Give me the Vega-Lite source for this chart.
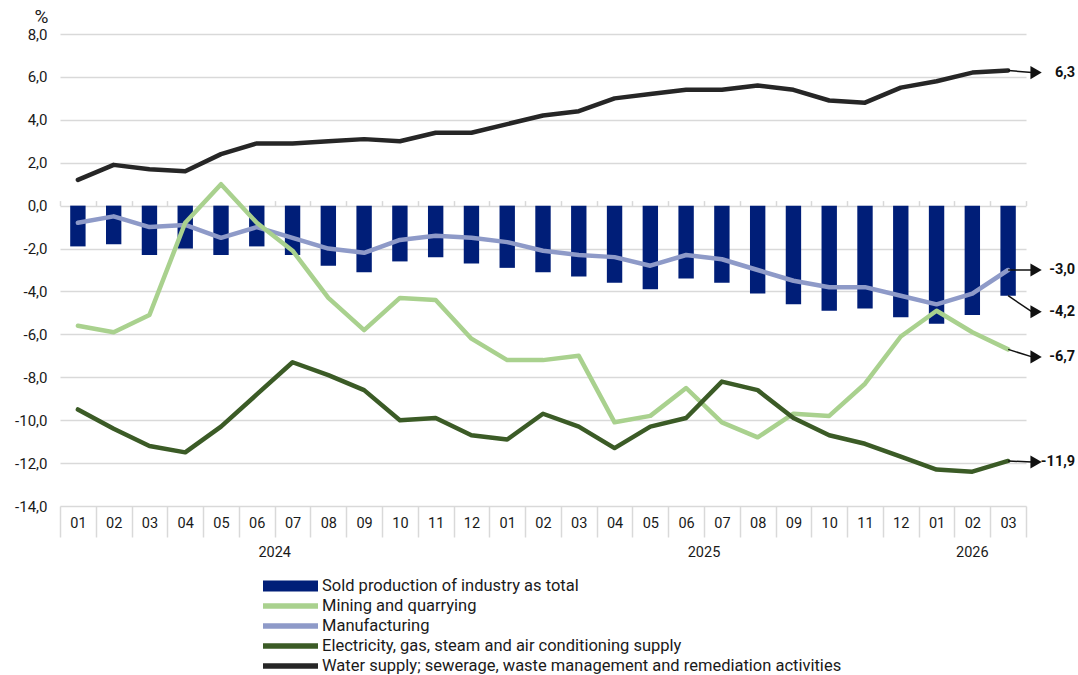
{
  "$schema": "https://vega.github.io/schema/vega-lite/v6.json",
  "width": 966,
  "height": 472,
  "autosize": {"type": "none"},
  "padding": {"left": 60, "top": 34, "right": 52, "bottom": 169},
  "background": "white",
  "config": {
    "locale": {"number": {"decimal": ",", "thousands": " ", "grouping": [3], "currency": ["", ""], "minus": "-"}},
    "font": "Roboto",
    "view": {"stroke": null},
    "axis": {"labelFont": "Roboto", "labelColor": "#1a1a1a", "labelFontSize": 14},
    "axisY": {"titleFontSize": 19, "titleFontWeight": "normal", "titleColor": "#1a1a1a", "labelFontSize": 15}
  },
  "datasets": {
    "bars": [
      {"period": "2024-01", "series": "Sold production of industry as total", "value": -1.9},
      {"period": "2024-02", "series": "Sold production of industry as total", "value": -1.8},
      {"period": "2024-03", "series": "Sold production of industry as total", "value": -2.3},
      {"period": "2024-04", "series": "Sold production of industry as total", "value": -2.0},
      {"period": "2024-05", "series": "Sold production of industry as total", "value": -2.3},
      {"period": "2024-06", "series": "Sold production of industry as total", "value": -1.9},
      {"period": "2024-07", "series": "Sold production of industry as total", "value": -2.3},
      {"period": "2024-08", "series": "Sold production of industry as total", "value": -2.8},
      {"period": "2024-09", "series": "Sold production of industry as total", "value": -3.1},
      {"period": "2024-10", "series": "Sold production of industry as total", "value": -2.6},
      {"period": "2024-11", "series": "Sold production of industry as total", "value": -2.4},
      {"period": "2024-12", "series": "Sold production of industry as total", "value": -2.7},
      {"period": "2025-01", "series": "Sold production of industry as total", "value": -2.9},
      {"period": "2025-02", "series": "Sold production of industry as total", "value": -3.1},
      {"period": "2025-03", "series": "Sold production of industry as total", "value": -3.3},
      {"period": "2025-04", "series": "Sold production of industry as total", "value": -3.6},
      {"period": "2025-05", "series": "Sold production of industry as total", "value": -3.9},
      {"period": "2025-06", "series": "Sold production of industry as total", "value": -3.4},
      {"period": "2025-07", "series": "Sold production of industry as total", "value": -3.6},
      {"period": "2025-08", "series": "Sold production of industry as total", "value": -4.1},
      {"period": "2025-09", "series": "Sold production of industry as total", "value": -4.6},
      {"period": "2025-10", "series": "Sold production of industry as total", "value": -4.9},
      {"period": "2025-11", "series": "Sold production of industry as total", "value": -4.8},
      {"period": "2025-12", "series": "Sold production of industry as total", "value": -5.2},
      {"period": "2026-01", "series": "Sold production of industry as total", "value": -5.5},
      {"period": "2026-02", "series": "Sold production of industry as total", "value": -5.1},
      {"period": "2026-03", "series": "Sold production of industry as total", "value": -4.2}
    ],
    "lines": [
      {"period": "2024-01", "series": "Manufacturing", "value": -0.8},
      {"period": "2024-02", "series": "Manufacturing", "value": -0.5},
      {"period": "2024-03", "series": "Manufacturing", "value": -1.0},
      {"period": "2024-04", "series": "Manufacturing", "value": -0.9},
      {"period": "2024-05", "series": "Manufacturing", "value": -1.5},
      {"period": "2024-06", "series": "Manufacturing", "value": -1.0},
      {"period": "2024-07", "series": "Manufacturing", "value": -1.5},
      {"period": "2024-08", "series": "Manufacturing", "value": -2.0},
      {"period": "2024-09", "series": "Manufacturing", "value": -2.2},
      {"period": "2024-10", "series": "Manufacturing", "value": -1.6},
      {"period": "2024-11", "series": "Manufacturing", "value": -1.4},
      {"period": "2024-12", "series": "Manufacturing", "value": -1.5},
      {"period": "2025-01", "series": "Manufacturing", "value": -1.7},
      {"period": "2025-02", "series": "Manufacturing", "value": -2.1},
      {"period": "2025-03", "series": "Manufacturing", "value": -2.3},
      {"period": "2025-04", "series": "Manufacturing", "value": -2.4},
      {"period": "2025-05", "series": "Manufacturing", "value": -2.8},
      {"period": "2025-06", "series": "Manufacturing", "value": -2.3},
      {"period": "2025-07", "series": "Manufacturing", "value": -2.5},
      {"period": "2025-08", "series": "Manufacturing", "value": -3.0},
      {"period": "2025-09", "series": "Manufacturing", "value": -3.5},
      {"period": "2025-10", "series": "Manufacturing", "value": -3.8},
      {"period": "2025-11", "series": "Manufacturing", "value": -3.8},
      {"period": "2025-12", "series": "Manufacturing", "value": -4.2},
      {"period": "2026-01", "series": "Manufacturing", "value": -4.6},
      {"period": "2026-02", "series": "Manufacturing", "value": -4.1},
      {"period": "2026-03", "series": "Manufacturing", "value": -3.0},
      {"period": "2024-01", "series": "Mining and quarrying", "value": -5.6},
      {"period": "2024-02", "series": "Mining and quarrying", "value": -5.9},
      {"period": "2024-03", "series": "Mining and quarrying", "value": -5.1},
      {"period": "2024-04", "series": "Mining and quarrying", "value": -0.8},
      {"period": "2024-05", "series": "Mining and quarrying", "value": 1.0},
      {"period": "2024-06", "series": "Mining and quarrying", "value": -0.8},
      {"period": "2024-07", "series": "Mining and quarrying", "value": -2.1},
      {"period": "2024-08", "series": "Mining and quarrying", "value": -4.3},
      {"period": "2024-09", "series": "Mining and quarrying", "value": -5.8},
      {"period": "2024-10", "series": "Mining and quarrying", "value": -4.3},
      {"period": "2024-11", "series": "Mining and quarrying", "value": -4.4},
      {"period": "2024-12", "series": "Mining and quarrying", "value": -6.2},
      {"period": "2025-01", "series": "Mining and quarrying", "value": -7.2},
      {"period": "2025-02", "series": "Mining and quarrying", "value": -7.2},
      {"period": "2025-03", "series": "Mining and quarrying", "value": -7.0},
      {"period": "2025-04", "series": "Mining and quarrying", "value": -10.1},
      {"period": "2025-05", "series": "Mining and quarrying", "value": -9.8},
      {"period": "2025-06", "series": "Mining and quarrying", "value": -8.5},
      {"period": "2025-07", "series": "Mining and quarrying", "value": -10.1},
      {"period": "2025-08", "series": "Mining and quarrying", "value": -10.8},
      {"period": "2025-09", "series": "Mining and quarrying", "value": -9.7},
      {"period": "2025-10", "series": "Mining and quarrying", "value": -9.8},
      {"period": "2025-11", "series": "Mining and quarrying", "value": -8.3},
      {"period": "2025-12", "series": "Mining and quarrying", "value": -6.1},
      {"period": "2026-01", "series": "Mining and quarrying", "value": -4.9},
      {"period": "2026-02", "series": "Mining and quarrying", "value": -5.9},
      {"period": "2026-03", "series": "Mining and quarrying", "value": -6.7},
      {"period": "2024-01", "series": "\u00a0Electricity, gas, steam and air conditioning supply", "value": -9.5},
      {"period": "2024-02", "series": "\u00a0Electricity, gas, steam and air conditioning supply", "value": -10.4},
      {"period": "2024-03", "series": "\u00a0Electricity, gas, steam and air conditioning supply", "value": -11.2},
      {"period": "2024-04", "series": "\u00a0Electricity, gas, steam and air conditioning supply", "value": -11.5},
      {"period": "2024-05", "series": "\u00a0Electricity, gas, steam and air conditioning supply", "value": -10.3},
      {"period": "2024-06", "series": "\u00a0Electricity, gas, steam and air conditioning supply", "value": -8.8},
      {"period": "2024-07", "series": "\u00a0Electricity, gas, steam and air conditioning supply", "value": -7.3},
      {"period": "2024-08", "series": "\u00a0Electricity, gas, steam and air conditioning supply", "value": -7.9},
      {"period": "2024-09", "series": "\u00a0Electricity, gas, steam and air conditioning supply", "value": -8.6},
      {"period": "2024-10", "series": "\u00a0Electricity, gas, steam and air conditioning supply", "value": -10.0},
      {"period": "2024-11", "series": "\u00a0Electricity, gas, steam and air conditioning supply", "value": -9.9},
      {"period": "2024-12", "series": "\u00a0Electricity, gas, steam and air conditioning supply", "value": -10.7},
      {"period": "2025-01", "series": "\u00a0Electricity, gas, steam and air conditioning supply", "value": -10.9},
      {"period": "2025-02", "series": "\u00a0Electricity, gas, steam and air conditioning supply", "value": -9.7},
      {"period": "2025-03", "series": "\u00a0Electricity, gas, steam and air conditioning supply", "value": -10.3},
      {"period": "2025-04", "series": "\u00a0Electricity, gas, steam and air conditioning supply", "value": -11.3},
      {"period": "2025-05", "series": "\u00a0Electricity, gas, steam and air conditioning supply", "value": -10.3},
      {"period": "2025-06", "series": "\u00a0Electricity, gas, steam and air conditioning supply", "value": -9.9},
      {"period": "2025-07", "series": "\u00a0Electricity, gas, steam and air conditioning supply", "value": -8.2},
      {"period": "2025-08", "series": "\u00a0Electricity, gas, steam and air conditioning supply", "value": -8.6},
      {"period": "2025-09", "series": "\u00a0Electricity, gas, steam and air conditioning supply", "value": -9.9},
      {"period": "2025-10", "series": "\u00a0Electricity, gas, steam and air conditioning supply", "value": -10.7},
      {"period": "2025-11", "series": "\u00a0Electricity, gas, steam and air conditioning supply", "value": -11.1},
      {"period": "2025-12", "series": "\u00a0Electricity, gas, steam and air conditioning supply", "value": -11.7},
      {"period": "2026-01", "series": "\u00a0Electricity, gas, steam and air conditioning supply", "value": -12.3},
      {"period": "2026-02", "series": "\u00a0Electricity, gas, steam and air conditioning supply", "value": -12.4},
      {"period": "2026-03", "series": "\u00a0Electricity, gas, steam and air conditioning supply", "value": -11.9},
      {"period": "2024-01", "series": "Water supply; sewerage, waste management and remediation activities", "value": 1.2},
      {"period": "2024-02", "series": "Water supply; sewerage, waste management and remediation activities", "value": 1.9},
      {"period": "2024-03", "series": "Water supply; sewerage, waste management and remediation activities", "value": 1.7},
      {"period": "2024-04", "series": "Water supply; sewerage, waste management and remediation activities", "value": 1.6},
      {"period": "2024-05", "series": "Water supply; sewerage, waste management and remediation activities", "value": 2.4},
      {"period": "2024-06", "series": "Water supply; sewerage, waste management and remediation activities", "value": 2.9},
      {"period": "2024-07", "series": "Water supply; sewerage, waste management and remediation activities", "value": 2.9},
      {"period": "2024-08", "series": "Water supply; sewerage, waste management and remediation activities", "value": 3.0},
      {"period": "2024-09", "series": "Water supply; sewerage, waste management and remediation activities", "value": 3.1},
      {"period": "2024-10", "series": "Water supply; sewerage, waste management and remediation activities", "value": 3.0},
      {"period": "2024-11", "series": "Water supply; sewerage, waste management and remediation activities", "value": 3.4},
      {"period": "2024-12", "series": "Water supply; sewerage, waste management and remediation activities", "value": 3.4},
      {"period": "2025-01", "series": "Water supply; sewerage, waste management and remediation activities", "value": 3.8},
      {"period": "2025-02", "series": "Water supply; sewerage, waste management and remediation activities", "value": 4.2},
      {"period": "2025-03", "series": "Water supply; sewerage, waste management and remediation activities", "value": 4.4},
      {"period": "2025-04", "series": "Water supply; sewerage, waste management and remediation activities", "value": 5.0},
      {"period": "2025-05", "series": "Water supply; sewerage, waste management and remediation activities", "value": 5.2},
      {"period": "2025-06", "series": "Water supply; sewerage, waste management and remediation activities", "value": 5.4},
      {"period": "2025-07", "series": "Water supply; sewerage, waste management and remediation activities", "value": 5.4},
      {"period": "2025-08", "series": "Water supply; sewerage, waste management and remediation activities", "value": 5.6},
      {"period": "2025-09", "series": "Water supply; sewerage, waste management and remediation activities", "value": 5.4},
      {"period": "2025-10", "series": "Water supply; sewerage, waste management and remediation activities", "value": 4.9},
      {"period": "2025-11", "series": "Water supply; sewerage, waste management and remediation activities", "value": 4.8},
      {"period": "2025-12", "series": "Water supply; sewerage, waste management and remediation activities", "value": 5.5},
      {"period": "2026-01", "series": "Water supply; sewerage, waste management and remediation activities", "value": 5.8},
      {"period": "2026-02", "series": "Water supply; sewerage, waste management and remediation activities", "value": 6.2},
      {"period": "2026-03", "series": "Water supply; sewerage, waste management and remediation activities", "value": 6.3}
    ],
    "ends": [
      {"period": "2026-03", "series": "Water supply; sewerage, waste management and remediation activities", "value": 6.3, "labelPos": 6.2},
      {"period": "2026-03", "series": "Manufacturing", "value": -3.0, "labelPos": -3.0},
      {"period": "2026-03", "series": "Sold production of industry as total", "value": -4.2, "labelPos": -4.95},
      {"period": "2026-03", "series": "Mining and quarrying", "value": -6.7, "labelPos": -7.05},
      {"period": "2026-03", "series": "\u00a0Electricity, gas, steam and air conditioning supply", "value": -11.9, "labelPos": -11.95}
    ]
  },
  "resolve": {"axis": {"x": "independent"}},
  "layer": [
    {
      "data": {"name": "bars"},
      "mark": {"type": "bar", "width": {"band": 0.43}},
      "encoding": {
        "x": {
          "field": "period", "type": "ordinal", "sort": null,
          "scale": {"paddingInner": 0, "paddingOuter": 0},
          "axis": {
            "orient": "bottom", "title": null,
            "labelExpr": "datum.value ? slice(datum.value, 5) : ''",
            "tickBand": "extent", "tickSize": 31, "tickColor": "#D9D9D9", "tickWidth": 1.5,
            "domain": false, "grid": false, "labelAngle": 0, "labelBaseline": "middle",
            "labelPadding": -14, "labelFontSize": 14.5,
            "encode": {"ticks": {"update": {"y2": {"signal": "(datum.extra || datum.value == '2024-12' || datum.value == '2025-12' || datum.value == '2026-03') ? 61 : 31"}}}}
          }
        },
        "y": {
          "field": "value", "type": "quantitative",
          "scale": {"domain": [-14, 8], "nice": false},
          "axis": {
            "values": [-14, -12, -10, -8, -6, -4, -2, 0, 2, 4, 6, 8],
            "format": ".1f", "title": "%", "titleAngle": 0, "titleX": -19, "titleY": -18,
            "titleAlign": "center", "titleBaseline": "middle", "titleFontSize": 19,
            "titleFontWeight": "normal", "titleColor": "#1a1a1a", "titleFont": "Roboto",
            "ticks": false, "domain": false, "grid": true, "gridColor": "#D9D9D9", "gridWidth": 1.5,
            "labelPadding": 13, "labelFontSize": 15
          }
        },
        "color": {
          "field": "series", "type": "nominal",
          "scale": {
            "domain": ["Sold production of industry as total", "Mining and quarrying", "Manufacturing", "\u00a0Electricity, gas, steam and air conditioning supply", "Water supply; sewerage, waste management and remediation activities"],
            "range": ["#001E78", "#A9D18E", "#8E9AC8", "#3B5B26", "#262626"]
          },
          "legend": {
            "orient": "none", "legendX": 220.5, "legendY": 542, "direction": "vertical", "title": null,
            "padding": 0, "symbolType": "M-2.75,-0.28H2.75V0.28H-2.75Z", "symbolSize": 400, "symbolStrokeWidth": 0,
            "symbolOpacity": 1, "labelFont": "Roboto", "labelFontSize": 16.5, "labelColor": "#1a1a1a",
            "labelLimit": 800, "labelOffset": 21.5, "rowPadding": 1,
            "encode": {"symbols": {"update": {"shape": {"signal": "datum.value == 'Sold production of industry as total' ? 'M-2.75,-0.55H2.75V0.55H-2.75Z' : 'M-2.75,-0.28H2.75V0.28H-2.75Z'"}}}}
          }
        }
      }
    },
    {
      "data": {"name": "lines"},
      "mark": {"type": "line", "strokeWidth": 4.5, "strokeJoin": "round", "strokeCap": "round"},
      "encoding": {
        "x": {
          "field": "period", "type": "ordinal", "sort": null,
          "axis": {
            "orient": "bottom", "title": null, "values": ["2024-06", "2025-06"],
            "labelExpr": "datum.value ? slice(datum.value, 0, 4) : ''",
            "ticks": false, "domain": false, "grid": false, "labelAngle": 0,
            "labelBaseline": "middle", "labelPadding": 46, "labelFontSize": 14.5, "labelOffset": 17.9
          }
        },
        "y": {"field": "value", "type": "quantitative"},
        "color": {"field": "series", "type": "nominal", "legend": null}
      }
    },
    {
      "data": {"name": "ends"},
      "mark": {"type": "rule", "color": "#111111", "strokeWidth": 1.5, "x2Offset": 24},
      "encoding": {
        "x": {
          "field": "period", "type": "ordinal", "sort": null,
          "axis": {
            "orient": "top", "offset": -171.6, "title": null,
            "labels": false, "domain": false, "grid": false, "tickBand": "extent",
            "tickSize": 5, "tickColor": "#D9D9D9", "tickWidth": 1.5
          }
        },
        "x2": {"field": "period"},
        "y": {"field": "value", "type": "quantitative"},
        "y2": {"field": "labelPos"}
      }
    },
    {
      "data": {"name": "ends"},
      "mark": {"type": "point", "shape": "triangle-right", "filled": true, "size": 170, "color": "#111111", "opacity": 1, "xOffset": 28},
      "encoding": {
        "x": {
          "field": "period", "type": "ordinal", "sort": null,
          "axis": {
            "orient": "bottom", "title": null, "values": ["2026-02"],
            "labelExpr": "'2026'", "ticks": false, "domain": false, "grid": false, "labelAngle": 0,
            "labelBaseline": "middle", "labelPadding": 46, "labelFontSize": 14.5
          }
        },
        "y": {"field": "labelPos", "type": "quantitative"}
      }
    },
    {
      "data": {"name": "ends"},
      "mark": {"type": "text", "align": "right", "baseline": "middle", "fontWeight": "bold", "fontSize": 14.5, "font": "Roboto", "color": "#111111", "xOffset": 67},
      "encoding": {
        "x": {"field": "period", "type": "ordinal", "sort": null, "axis": null},
        "y": {"field": "labelPos", "type": "quantitative"},
        "text": {"field": "value", "type": "quantitative", "format": ".1f"}
      }
    }
  ]
}
